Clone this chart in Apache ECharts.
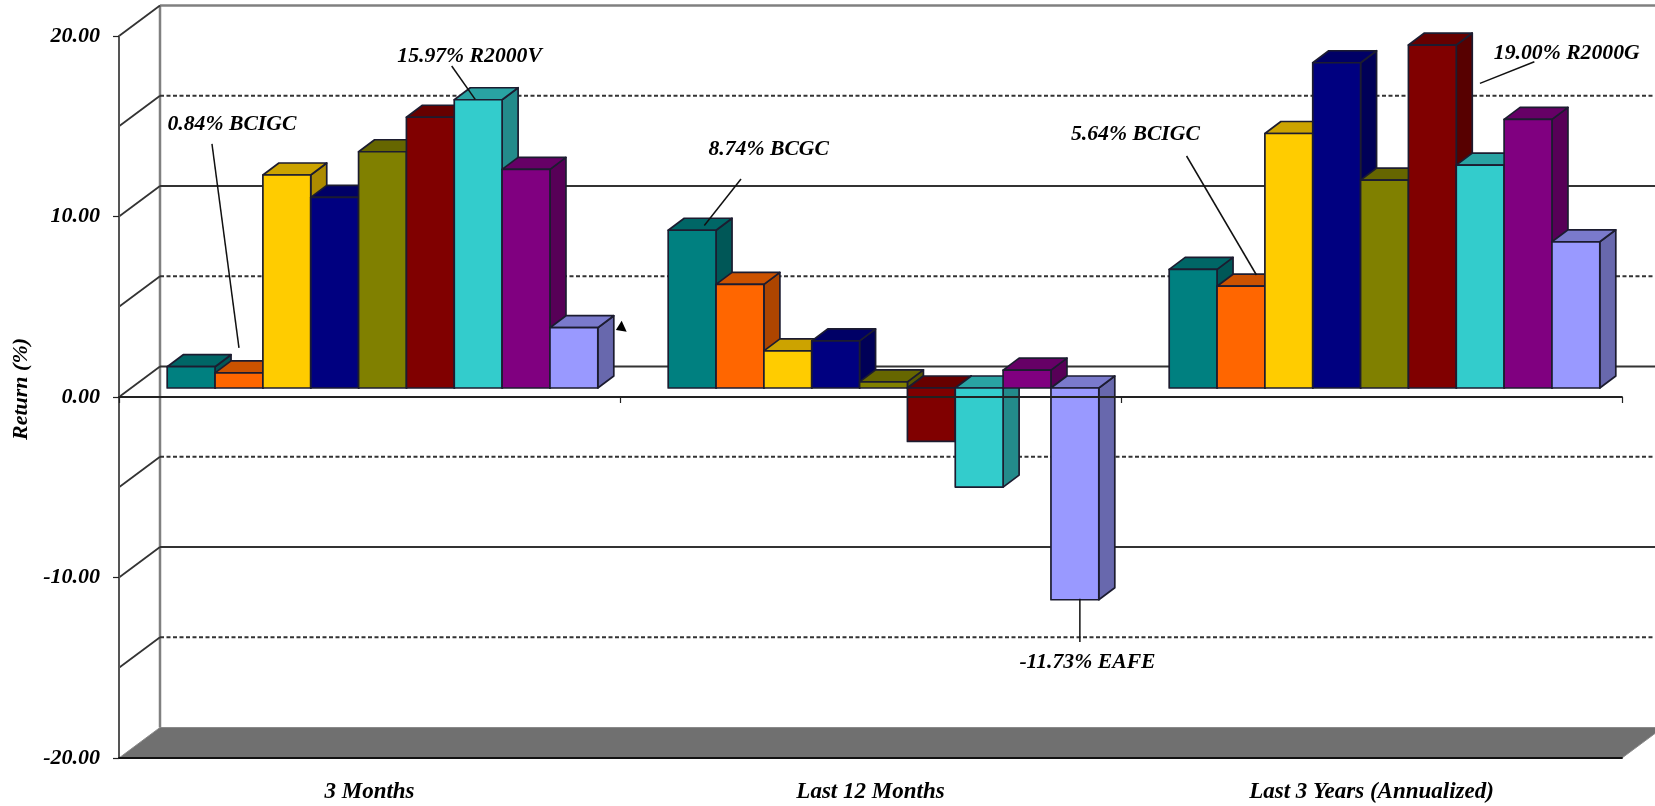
<!DOCTYPE html>
<html>
<head>
<meta charset="utf-8">
<style>html,body{margin:0;padding:0;background:#fff}#c{width:1655px;height:806px}</style>
<script src="https://cdn.jsdelivr.net/npm/echarts@6/dist/echarts.min.js"></script>
</head>
<body>
<div id="c"></div>
<script>
const categories = ['3 Months', 'Last 12 Months', 'Last 3 Years (Annualized)'];
const yTicks = [-20, -15, -10, -5, 0, 5, 10, 15, 20];
const dashedTicks = [-15, -5, 5, 15];

// Only the annotated funds can be named from the picture
const fundBCGC   = [1.18, 8.74, 6.57];
const fundBCIGC  = [0.84, 5.74, 5.64];
const fundYellow = [11.8, 2.06, 14.1];
const fundNavy   = [10.56, 2.61, 18.02];
const fundOlive  = [13.09, 0.34, 11.52];
const fundR2000G = [15.0, -2.96, 19.0];
const fundR2000V = [15.97, -5.49, 12.35];
const fundPurple = [12.11, 0.99, 14.88];
const fundEAFE   = [3.34, -11.73, 8.1];

const funds = [
  ['BCGC', fundBCGC, [0, 128, 128]],
  ['BCIGC', fundBCIGC, [255, 102, 0]],
  ['Fund 3', fundYellow, [255, 204, 0]],
  ['Fund 4', fundNavy, [0, 0, 128]],
  ['Fund 5', fundOlive, [128, 128, 0]],
  ['R2000G', fundR2000G, [128, 0, 0]],
  ['R2000V', fundR2000V, [51, 204, 204]],
  ['Fund 8', fundPurple, [128, 0, 128]],
  ['EAFE', fundEAFE, [153, 153, 255]]
];

const calloutText = ['0.84% BCIGC', '15.97% R2000V', '8.74% BCGC', '-11.73% EAFE', '5.64% BCIGC', '19.00% R2000G'];
const calloutCat = [0, 0, 1, 1, 2, 2];
const calloutBar = [1, 6, 0, 8, 1, 5];
const calloutValue = [0.84, 15.97, 8.74, -11.73, 5.64, 19.0];
// layout: offsets in px from the bar's front top centre: text x,y then leader x1,y1,x2,y2
const calloutLayout = [
  [-7, -248, -27, -229, 0, -25],
  [-8.6, -43.3, -26.5, -33.7, -3, -0.4],
  [76.6, -80.8, 48.9, -51.2, 12.2, -4.8],
  [12.6, 62.3, 5, -1, 5, 42.3],
  [-105.5, -151.7, -54.4, -130.2, 15.5, -11.2],
  [134.4, 8.2, 102, 16.7, 47.6, 38.3]
];

const WALL_DX = 41, WALL_DY = -30.5;     // depth of the 3D box
const BAR_DX0 = 13, BAR_DY0 = -9;        // bar front plane offset
const BAR_DX = 16, BAR_DY = -12;         // bar depth
const GROUP_FRACTION = 430.6 / 501;
const FONT = 'italic bold 21.7px "Liberation Serif", serif';

function shade(c, f) { return 'rgb(' + c.map(v => Math.round(v * f)).join(',') + ')'; }
function barLeft(api, cat, i) {
  const band = api.size([1, 0])[0];
  const center = api.coord([cat, 0])[0];
  const w = band * GROUP_FRACTION / funds.length;
  return { x: center - band * GROUP_FRACTION / 2 + i * w + BAR_DX0, w: w };
}

const series = [];

// floor and back wall frame
series.push({
  type: 'custom', coordinateSystem: 'cartesian2d', z: 1, silent: true,
  data: [[0, -20]],
  encode: { x: 0, y: 1 },
  renderItem: function (p, api) {
    const cs = p.coordSys;
    const yB = api.coord([0, -20])[1], yT = api.coord([0, 20])[1];
    const L = cs.x, R = cs.x + cs.width;
    return { type: 'group', children: [
      { type: 'polygon', shape: { points: [[L, yB], [R, yB], [R + WALL_DX, yB + WALL_DY], [L + WALL_DX, yB + WALL_DY]] },
        style: { fill: '#707070', stroke: '#8a8a8a', lineWidth: 1 } },
      { type: 'line', shape: { x1: L + WALL_DX, y1: yT + WALL_DY, x2: L + WALL_DX, y2: yB + WALL_DY },
        style: { stroke: '#808080', lineWidth: 2.5 } },
      { type: 'line', shape: { x1: L + WALL_DX, y1: yT + WALL_DY, x2: R + WALL_DX, y2: yT + WALL_DY },
        style: { stroke: '#808080', lineWidth: 2.5 } }
    ] };
  }
});

// gridlines on the back wall, with their diagonals on the side wall
series.push({
  type: 'custom', coordinateSystem: 'cartesian2d', z: 1, silent: true,
  data: yTicks.map(v => [0, v]),
  encode: { x: 0, y: 1 },
  renderItem: function (p, api) {
    const cs = p.coordSys, v = api.value(1), y = api.coord([0, v])[1];
    const L = cs.x, R = cs.x + cs.width;
    const kids = [];
    if (v > -20) {
      kids.push({ type: 'line', shape: { x1: L, y1: y, x2: L + WALL_DX, y2: y + WALL_DY },
        style: { stroke: '#333', lineWidth: 1.8 } });
    }
    if (v > -20 && v < 20) {
      kids.push({ type: 'line', shape: { x1: L + WALL_DX, y1: y + WALL_DY, x2: R + WALL_DX, y2: y + WALL_DY },
        style: { stroke: '#333', lineWidth: 1.8,
                 lineDash: dashedTicks.indexOf(v) >= 0 ? [4, 2.5] : null } });
    }
    return { type: 'group', children: kids };
  }
});

// 3D bars: one custom series per fund, painted left to right
funds.forEach(function (fund, i) {
  series.push({
    name: fund[0], type: 'custom', coordinateSystem: 'cartesian2d', z: 2,
    data: fund[1].map((v, c) => [c, v]),
    encode: { x: 0, y: 1 },
    renderItem: function (p, api) {
      const cat = api.value(0), v = api.value(1);
      const b = barLeft(api, cat, i);
      const y0 = api.coord([cat, 0])[1] + BAR_DY0;
      const yv = api.coord([cat, v])[1] + BAR_DY0;
      const top = Math.min(y0, yv), bot = Math.max(y0, yv);
      const x1 = b.x, x2 = b.x + b.w;
      const border = { stroke: '#1c1c30', lineWidth: 1.7, lineJoin: 'round' };
      return { type: 'group', children: [
        { type: 'polygon', shape: { points: [[x2, top], [x2 + BAR_DX, top + BAR_DY], [x2 + BAR_DX, bot + BAR_DY], [x2, bot]] },
          style: Object.assign({ fill: shade(fund[2], 0.68) }, border) },
        { type: 'polygon', shape: { points: [[x1, top], [x1 + BAR_DX, top + BAR_DY], [x2 + BAR_DX, top + BAR_DY], [x2, top]] },
          style: Object.assign({ fill: shade(fund[2], 0.8) }, border) },
        { type: 'rect', shape: { x: x1, y: top, width: b.w, height: bot - top },
          style: Object.assign({ fill: shade(fund[2], 1) }, border) }
      ] };
    }
  });
});

// callouts
series.push({
  type: 'custom', coordinateSystem: 'cartesian2d', z: 6, silent: true,
  data: calloutText.map((t, i) => [calloutCat[i], calloutValue[i]]),
  encode: { x: 0, y: 1 },
  renderItem: function (p, api) {
    const k = p.dataIndex, L = calloutLayout[k];
    const cat = api.value(0), v = api.value(1);
    const b = barLeft(api, cat, calloutBar[k]);
    const ax = b.x + b.w / 2, ay = api.coord([cat, v])[1] + BAR_DY0;
    return { type: 'group', children: [
      { type: 'line', shape: { x1: ax + L[2], y1: ay + L[3], x2: ax + L[4], y2: ay + L[5] },
        style: { stroke: '#111', lineWidth: 1.5 } },
      { type: 'text', style: { text: calloutText[k], x: ax + L[0], y: ay + L[1], align: 'center', verticalAlign: 'middle',
        font: FONT, fill: '#000' } }
    ] };
  }
});

// small stray arrowhead next to the first group's last bar
series.push({
  type: 'custom', coordinateSystem: 'cartesian2d', z: 6, silent: true,
  data: [[0, fundEAFE[0]]],
  encode: { x: 0, y: 1 },
  renderItem: function (p, api) {
    const b = barLeft(api, 0, 8);
    const ax = b.x + b.w / 2, ay = api.coord([0, api.value(1)])[1] + BAR_DY0;
    return { type: 'polygon', shape: { points: [[ax + 42, ay + 2.3], [ax + 47.8, ay - 7], [ax + 52.8, ay + 4]] },
      style: { fill: '#000' } };
  }
});

const chart = echarts.init(document.getElementById('c'), null, { renderer: 'canvas' });
chart.setOption({
  animation: false,
  backgroundColor: '#fff',
  grid: { left: 119, right: 33, top: 36, bottom: 48, containLabel: false, outerBoundsMode: 'none' },
  xAxis: [
    { type: 'category', data: categories, position: 'bottom', z: 3,
      axisLine: { onZero: false, lineStyle: { color: '#111', width: 1.8 } },
      axisTick: { show: false },
      axisLabel: { margin: 23, color: '#000', fontFamily: '"Liberation Serif", serif', fontStyle: 'italic', fontWeight: 'bold', fontSize: 23, interval: 0 },
      splitLine: { show: false } },
    { type: 'category', data: categories, position: 'bottom', z: 5,
      axisLine: { onZero: true, lineStyle: { color: '#222', width: 1.8 } },
      axisTick: { show: true, length: 6, lineStyle: { color: '#222', width: 1.2 } },
      axisLabel: { show: false },
      splitLine: { show: false } }
  ],
  yAxis: { type: 'value', min: -20, max: 20, interval: 10, z: 3,
    name: 'Return (%)', nameLocation: 'middle', nameGap: 86, nameRotate: 90,
    nameTextStyle: { color: '#000', fontFamily: '"Liberation Serif", serif', fontStyle: 'italic', fontWeight: 'bold', fontSize: 22, padding: [0, 0, 0, 16] },
    axisLine: { show: true, onZero: false, lineStyle: { color: '#555', width: 2 } },
    axisTick: { show: true, length: 6, lineStyle: { color: '#222', width: 1.2 } },
    axisLabel: { margin: 19, color: '#000', fontFamily: '"Liberation Serif", serif', fontStyle: 'italic', fontWeight: 'bold', fontSize: 22,
      formatter: v => v.toFixed(2) },
    splitLine: { show: false } },
  series: series
});
</script>
</body>
</html>
